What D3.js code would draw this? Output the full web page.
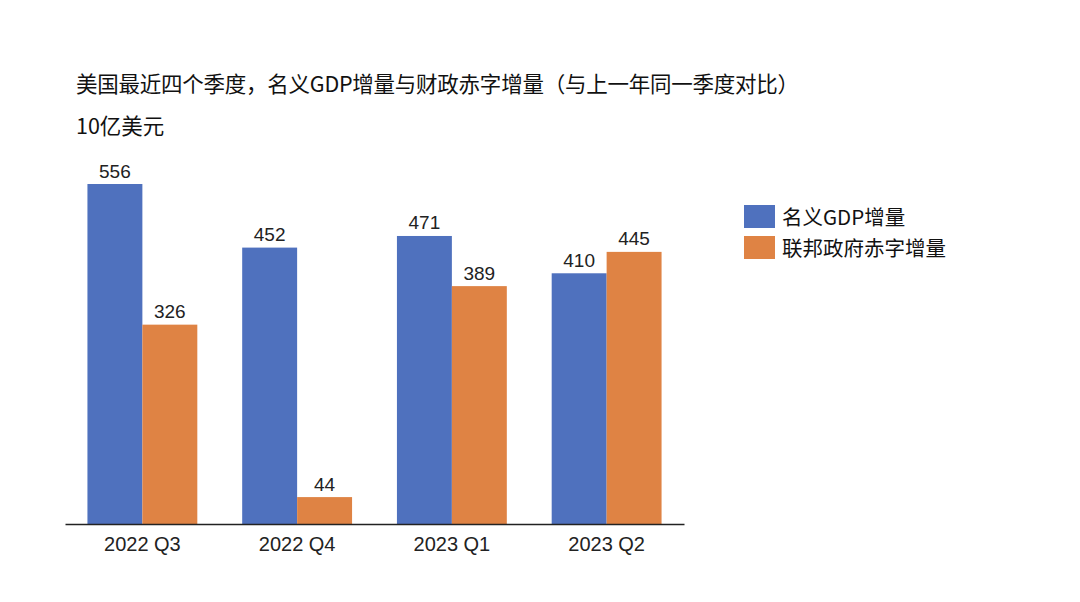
<!DOCTYPE html>
<html>
<head>
<meta charset="utf-8">
<script src="https://cdn.jsdelivr.net/npm/d3@7"></script>
<style>
  body { margin: 0; background: #fff; }
  text { font-family: "Liberation Sans", "Noto Sans CJK SC", sans-serif; }
</style>
</head>
<body>
<div id="chart"></div>
<script>
const quarters = ["2022 Q3", "2022 Q4", "2023 Q1", "2023 Q2"];
const gdpGrowth = [556, 452, 471, 410];
const deficitGrowth = [326, 44, 389, 445];
const seriesNames = ["名义GDP增量", "联邦政府赤字增量"];
const colors = ["#4F71BE", "#DF8344"];

const data = quarters.map((q, i) => ({ quarter: q, values: [gdpGrowth[i], deficitGrowth[i]] }));

const W = 1080, H = 602;
const svg = d3.select("#chart").append("svg")
    .attr("width", W)
    .attr("height", H);

const x0 = d3.scaleBand()
    .domain(quarters)
    .range([65, 684])
    .paddingInner(0.29)
    .paddingOuter(0.145);

const x1 = d3.scaleBand()
    .domain([0, 1])
    .range([0, x0.bandwidth()]);

const y = d3.scaleLinear()
    .domain([0, 556])
    .range([524, 184]);

const groups = svg.selectAll(".group")
    .data(data)
    .enter()
    .append("g")
    .attr("class", "group")
    .attr("transform", d => `translate(${x0(d.quarter)},0)`);

groups.selectAll("rect")
    .data(d => d.values)
    .enter()
    .append("rect")
    .attr("x", (d, i) => x1(i))
    .attr("y", d => y(d))
    .attr("width", x1.bandwidth())
    .attr("height", d => y(0) - y(d))
    .attr("fill", (d, i) => colors[i]);

// value labels above bars
groups.selectAll(".val")
    .data(d => d.values)
    .enter()
    .append("text")
    .attr("class", "val")
    .attr("x", (d, i) => x1(i) + x1.bandwidth() / 2)
    .attr("y", d => y(d) - 6.5)
    .attr("text-anchor", "middle")
    .attr("font-size", "19px")
    .attr("fill", "#222")
    .text(d => d);

const xAxis = svg.append("g")
    .attr("transform", `translate(0,${y(0)})`)
    .call(d3.axisBottom(x0).tickSize(0).tickPadding(13));

xAxis.select(".domain").attr("stroke", "#222").attr("stroke-width", 1.5);
xAxis.selectAll("text")
    .attr("font-size", "20px")
    .attr("fill", "#222")
    .style("font-family", "'Liberation Sans', sans-serif");

svg.append("text")
    .attr("x", 76)
    .attr("y", 91.5)
    .attr("font-size", "21.5px")
    .attr("textLength", 723)
    .attr("lengthAdjust", "spacing")
    .attr("fill", "#111")
    .style("font-family", "'Noto Sans CJK SC', sans-serif")
    .text("美国最近四个季度，名义GDP增量与财政赤字增量（与上一年同一季度对比）");

svg.append("text")
    .attr("x", 76)
    .attr("y", 134)
    .attr("font-size", "21.5px")
    .attr("fill", "#111")
    .style("font-family", "'Noto Sans CJK SC', sans-serif")
    .text("10亿美元");

const legend = svg.append("g")
    .attr("transform", "translate(744,205)");

const items = legend.selectAll(".legend-item")
    .data(seriesNames)
    .enter()
    .append("g")
    .attr("class", "legend-item")
    .attr("transform", (d, i) => `translate(0,${i * 31})`);

items.append("rect")
    .attr("width", 31)
    .attr("height", 23)
    .attr("fill", (d, i) => colors[i]);

items.append("text")
    .attr("x", 38)
    .attr("y", 19.5)
    .attr("font-size", "20.5px")
    .attr("fill", "#111")
    .style("font-family", "'Noto Sans CJK SC', sans-serif")
    .text(d => d);
</script>
</body>
</html>
